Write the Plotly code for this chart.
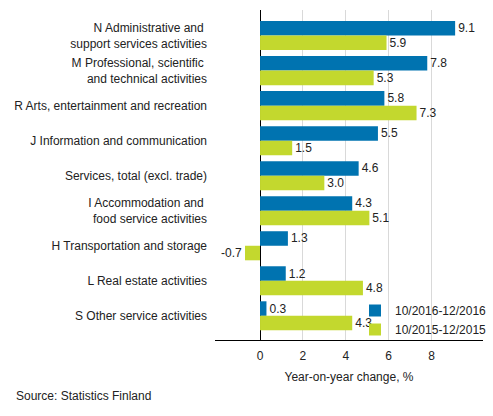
import plotly.graph_objects as go

categories = [
    "N Administrative and <br>support services activities",
    "M Professional, scientific <br>and technical activities",
    "R Arts, entertainment and recreation",
    "J Information and communication",
    "Services, total (excl. trade)",
    "I Accommodation and <br>food service activities",
    "H Transportation and storage",
    "L Real estate activities",
    "S Other service activities",
]
series_2016 = [9.1, 7.8, 5.8, 5.5, 4.6, 4.3, 1.3, 1.2, 0.3]
series_2015 = [5.9, 5.3, 7.3, 1.5, 3.0, 5.1, -0.7, 4.8, 4.3]
name_2016 = "10/2016-12/2016"
name_2015 = "10/2015-12/2015"
tick_vals = [0, 2, 4, 6, 8]

font_family = "Liberation Sans, Arial, sans-serif"

fig = go.Figure()
fig.add_trace(go.Bar(
    y=categories, x=series_2016, name=name_2016, orientation="h",
    marker=dict(color="#0073b0", line=dict(width=0)),
    text=[f"{v:.1f}" for v in series_2016], textposition="outside",
    textfont=dict(size=12, color="#222222", family=font_family),
    cliponaxis=False,
))
fig.add_trace(go.Bar(
    y=categories, x=series_2015, name=name_2015, orientation="h",
    marker=dict(color="#c3d82e", line=dict(width=0)),
    text=[f"{v:.1f}" for v in series_2015], textposition="outside",
    textfont=dict(size=12, color="#222222", family=font_family),
    cliponaxis=False,
))

fig.update_layout(
    width=493, height=416,
    margin=dict(l=215, r=10, t=10, b=76, autoexpand=False),
    barmode="group", bargap=0.17, bargroupgap=0,
    plot_bgcolor="white", paper_bgcolor="white",
    font=dict(family=font_family, size=12, color="#222222"),
    showlegend=True,
    legend=dict(
        x=1 + 9/268, xanchor="right", y=-4/330, yanchor="bottom",
        traceorder="normal", bgcolor="rgba(0,0,0,0)",
        font=dict(size=12, color="#222222"),
        itemwidth=30, tracegroupgap=0,
    ),
)
fig.update_xaxes(
    range=[-2.1, 10.4], tickvals=tick_vals, ticktext=[str(v) for v in tick_vals],
    showgrid=True, gridcolor="#d9d9d9", gridwidth=1,
    zeroline=True, zerolinecolor="#000000", zerolinewidth=1,
    showline=True, linecolor="#000000", linewidth=1,
    ticks="", ticklabelstandoff=5, automargin=False,
    title=dict(text="Year-on-year change, %", standoff=10, font=dict(size=12)),
)
fig.update_yaxes(
    range=[8.69, -0.73], showgrid=False, showline=False, zeroline=False,
    ticks="", ticklabelstandoff=7, automargin=False,
)
fig.add_annotation(
    text="Source: Statistics Finland", xref="paper", yref="paper",
    x=-201/268, y=-65/330, xanchor="left", yanchor="bottom",
    showarrow=False, font=dict(size=12, color="#222222"),
)

fig.write_html("out.html", config={"displayModeBar": False},
               post_script="document.body.style.margin='0';")
